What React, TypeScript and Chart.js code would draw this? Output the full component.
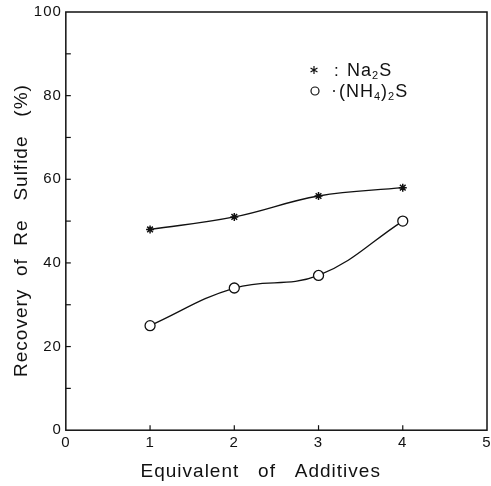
import React, { useEffect, useRef } from "react";
import { Chart, registerables } from "chart.js";

Chart.register(...registerables);

const xValues = [1, 2, 3, 4];
const na2sValues = [48, 51, 56, 58];
const nh4sValues = [25, 34, 37, 50];
const yTickLabels = [0, 20, 40, 60, 80, 100];
const xTickLabels = [0, 1, 2, 3, 4, 5];
const seriesNames = ["Na2S", "(NH4)2S"];

const FONT = "'Liberation Sans', Arial, sans-serif";

const boxPlugin = {
  id: "boxPlugin",
  beforeDraw(chart: any) {
    chart.ctx.letterSpacing = "1px";
  },
  afterDraw(chart: any) {
    const { ctx, chartArea } = chart;
    const xs = chart.scales.x;
    const ys = chart.scales.y;
    ctx.save();
    ctx.strokeStyle = "#111";
    ctx.lineWidth = 1.5;
    ctx.strokeRect(chartArea.left, chartArea.top, chartArea.right - chartArea.left, chartArea.bottom - chartArea.top);
    ctx.lineWidth = 1.2;
    for (let v = 10; v < 100; v += 10) {
      const py = ys.getPixelForValue(v);
      ctx.beginPath();
      ctx.moveTo(chartArea.left, py);
      ctx.lineTo(chartArea.left + 5, py);
      ctx.stroke();
    }
    for (let v = 1; v < 5; v += 1) {
      const px = xs.getPixelForValue(v);
      ctx.beginPath();
      ctx.moveTo(px, chartArea.bottom);
      ctx.lineTo(px, chartArea.bottom - 5);
      ctx.stroke();
    }
    // legend
    const lx = 310;
    ctx.fillStyle = "#111";
    ctx.textBaseline = "alphabetic";
    const sx = lx + 4, sy = 70;
    ctx.beginPath();
    for (let i = 0; i < 3; i++) {
      const a = (Math.PI / 3) * i + Math.PI / 2;
      ctx.moveTo(sx + 4 * Math.cos(a), sy + 4 * Math.sin(a));
      ctx.lineTo(sx - 4 * Math.cos(a), sy - 4 * Math.sin(a));
    }
    ctx.stroke();
    ctx.font = `17px ${FONT}`;
    ctx.fillText(":", lx + 24, 76);
    const drawSub = (parts: [string, boolean][], x: number, y: number) => {
      let cx = x;
      for (const [t, sub] of parts) {
        ctx.font = sub ? `11px ${FONT}` : `18px ${FONT}`;
        ctx.fillText(t, cx, sub ? y + 3 : y);
        cx += ctx.measureText(t).width;
      }
    };
    drawSub([["Na", false], ["2", true], ["S", false]], lx + 37, 76);
    ctx.beginPath();
    ctx.arc(lx + 5, 91, 4, 0, Math.PI * 2);
    ctx.stroke();
    ctx.beginPath();
    ctx.arc(lx + 24, 91, 1, 0, Math.PI * 2);
    ctx.fill();
    drawSub([["(NH", false], ["4", true], [")", false], ["2", true], ["S", false]], lx + 29, 97);
    ctx.restore();
  },
};

export default function App() {
  const ref = useRef<HTMLCanvasElement>(null);
  useEffect(() => {
    if (!ref.current) return;
    const chart = new Chart(ref.current, {
      type: "line",
      data: {
        datasets: [
          {
            label: seriesNames[0],
            data: xValues.map((x, i) => ({ x, y: na2sValues[i] })),
            borderColor: "#111",
            borderWidth: 1.3,
            pointStyle: "star",
            pointRadius: 4,
            pointBorderWidth: 1.5,
            pointBorderColor: "#111",
            pointBackgroundColor: "#111",
            tension: 0.4,
            fill: false,
          },
          {
            label: seriesNames[1],
            data: xValues.map((x, i) => ({ x, y: nh4sValues[i] })),
            borderColor: "#111",
            borderWidth: 1.3,
            pointStyle: "circle",
            pointRadius: 5,
            pointBorderWidth: 1.3,
            pointBorderColor: "#111",
            pointBackgroundColor: "#fff",
            tension: 0.4,
            fill: false,
          },
        ],
      },
      options: {
        animation: false,
        responsive: true,
        maintainAspectRatio: false,
        layout: { autoPadding: false, padding: { left: 10, right: 0, top: 2, bottom: 3 } },
        plugins: { legend: { display: false }, tooltip: { enabled: false } },
        scales: {
          x: {
            type: "linear",
            min: 0,
            max: 5,
            afterBuildTicks: (s: any) => { s.ticks = xTickLabels.map((v) => ({ value: v })); },
            afterFit: (s: any) => { s.paddingRight = 4; },
            grid: { display: false, drawTicks: false },
            border: { display: false },
            ticks: { color: "#111", font: { family: FONT, size: 15 }, padding: 4 },
            title: {
              display: true,
              text: "Equivalent   of   Additives     ",
              color: "#111",
              font: { family: FONT, size: 19 },
              padding: { top: 4, bottom: 0 },
            },
          },
          y: {
            type: "linear",
            min: 0,
            max: 100,
            afterBuildTicks: (s: any) => { s.ticks = yTickLabels.map((v) => ({ value: v })); },
            afterFit: (s: any) => { s.paddingTop = 12; },
            grid: { display: false, drawTicks: false },
            border: { display: false },
            ticks: { color: "#111", font: { family: FONT, size: 15 }, padding: 4 },
            title: {
              display: true,
              text: "Recovery  of  Re   Sulfide   (%)   ",
              color: "#111",
              font: { family: FONT, size: 19 },
              padding: { top: 0, bottom: 0 },
            },
          },
        },
      },
      plugins: [boxPlugin],
    });
    return () => chart.destroy();
  }, []);
  return (
    <div style={{ position: "fixed", left: 0, top: 0, width: 491, height: 486, background: "#fff" }}>
      <canvas ref={ref} />
    </div>
  );
}
